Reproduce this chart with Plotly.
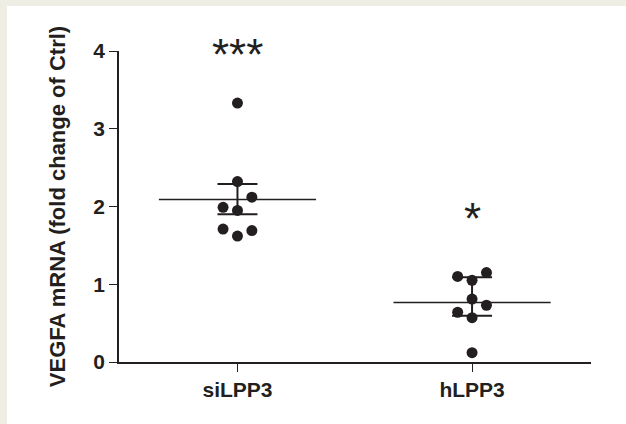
import plotly.graph_objects as go

# ---- data ----
categories = ["siLPP3", "hLPP3"]
siLPP3_values = [3.33, 2.32, 2.12, 1.99, 1.95, 1.71, 1.69, 1.62]
hLPP3_values = [1.10, 1.15, 1.05, 0.81, 0.73, 0.64, 0.57, 0.12]
center_values = [2.09, 0.765]      # horizontal line
lower_values = [1.90, 0.595]       # lower whisker
upper_values = [2.29, 1.09]        # upper whisker
significance = ["***", "*"]
y_ticks = [0, 1, 2, 3, 4]

# ---- layout / style constants ----
siLPP3_jitter = [0, 0, 1, -1, 0, -1, 1, 0]
hLPP3_jitter = [-1, 1, 0, 0, 1, -1, 0, 0]
JIT = 0.0614
HALF = 0.335
INK = "#231F20"
CREAM = "#EFEEE4"
FONT = "Liberation Sans"
W, H = 626, 424
ML, MR, MT, MB = 119, 35, 51, 62
PW = W - ML - MR
PH = H - MT - MB


def px_to_paper_x(px):
    return (px - ML) / PW


def px_to_paper_y(py):
    return (H - MB - py) / PH


fig = go.Figure()

groups = [siLPP3_values, hLPP3_values]
jitters = [siLPP3_jitter, hLPP3_jitter]

for i, (vals, jit) in enumerate(zip(groups, jitters)):
    # mean line
    fig.add_trace(go.Scatter(
        x=[i - HALF, i + HALF], y=[center_values[i], center_values[i]],
        mode="lines", line=dict(color=INK, width=1.5),
        hoverinfo="skip", showlegend=False))
    # whiskers
    fig.add_trace(go.Scatter(
        x=[i], y=[center_values[i]], mode="markers",
        marker=dict(size=1, color="rgba(0,0,0,0)"),
        error_y=dict(type="data", symmetric=False,
                     array=[upper_values[i] - center_values[i]],
                     arrayminus=[center_values[i] - lower_values[i]],
                     color=INK, thickness=2, width=20),
        hoverinfo="skip", showlegend=False))
    # points
    fig.add_trace(go.Scatter(
        x=[i + j * JIT for j in jit], y=vals, mode="markers",
        marker=dict(size=11, color=INK),
        showlegend=False))

# cream border on top and left of the white panel
fig.add_shape(type="rect", xref="paper", yref="paper",
              x0=-1, x1=2, y0=px_to_paper_y(6), y1=px_to_paper_y(-60),
              fillcolor=CREAM, line=dict(width=0), layer="below")
fig.add_shape(type="rect", xref="paper", yref="paper",
              x0=px_to_paper_x(-60), x1=px_to_paper_x(7), y0=-1, y1=2,
              fillcolor=CREAM, line=dict(width=0), layer="below")

# significance stars
star_y = [3.96, 1.845]
for i, s in enumerate(significance):
    fig.add_annotation(x=i, y=star_y[i], xref="x", yref="y", text=s,
                       showarrow=False, yanchor="middle",
                       font=dict(family=FONT, size=44, color=INK))

fig.update_layout(
    width=W, height=H, autosize=False,
    margin=dict(l=ML, r=MR, t=MT, b=MB),
    paper_bgcolor="white", plot_bgcolor="rgba(0,0,0,0)",
    font=dict(family=FONT, color=INK),
    xaxis=dict(range=[-0.505, 1.507], tickvals=[0, 1], ticktext=categories,
               showgrid=False, zeroline=False, showline=True,
               linecolor=INK, linewidth=1.5, ticks="outside", ticklen=8,
               tickwidth=1.2, tickcolor=INK,
               tickfont=dict(family=FONT, size=21, color=INK, weight="bold")),
    yaxis=dict(range=[0, 4], tickvals=y_ticks,
               showgrid=False, zeroline=False, showline=True,
               linecolor=INK, linewidth=1.5, ticks="outside", ticklen=8,
               tickwidth=1.2, tickcolor=INK,
               tickfont=dict(family=FONT, size=21, color=INK, weight="bold"),
               title=dict(text="VEGFA mRNA (fold change of Ctrl)",
                          font=dict(family=FONT, size=22, color=INK, weight="bold"),
                          standoff=22)),
)

fig.write_html("out.html",
               config={"displayModeBar": False},
               post_script="document.body.style.margin='0px';"
                           "document.body.style.overflow='hidden';")
